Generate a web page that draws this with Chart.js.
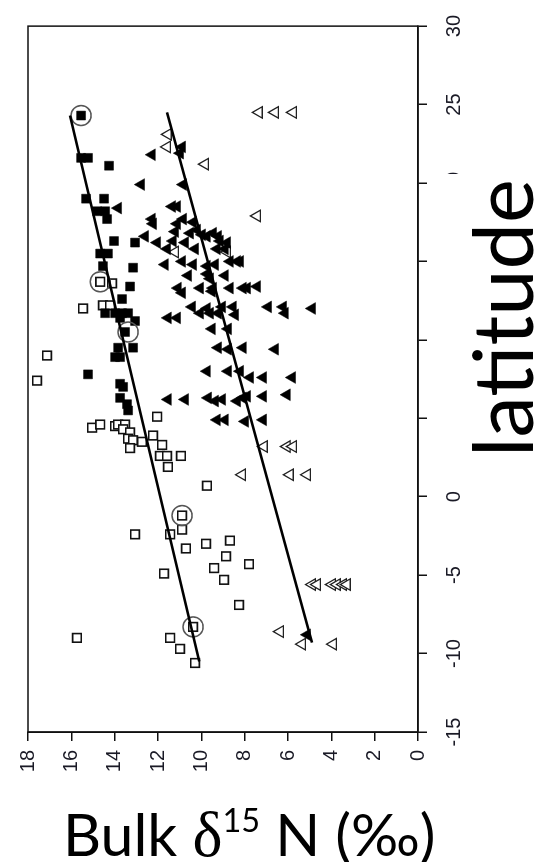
<!DOCTYPE html>
<html>
<head>
<meta charset="utf-8">
<script src="https://cdn.jsdelivr.net/npm/chart.js@4.4.0/dist/chart.umd.min.js"></script>
<style>
  html, body { margin: 0; padding: 0; background: #fff; }
  body { width: 545px; height: 862px; position: relative; overflow: hidden; }
  /* chart is laid out with latitude along x, then turned a quarter turn */
  #turn {
    position: absolute; left: 0; top: 0;
    width: 862px; height: 545px;
    transform-origin: 0 0;
    transform: translateY(862px) rotate(-90deg);
  }
  #nTitle {
    position: absolute; left: 63px; top: 803px;
    font: 59px Lato, "Open Sans", sans-serif; line-height: 1; color: #000;
    white-space: nowrap;
  }
  #nTitle .d { font-family: "Liberation Serif", serif; font-size: 1.08em; }
  #nTitle sup { font-size: 0.55em; line-height: 0; vertical-align: 0.75em; }
</style>
</head>
<body>
<div id="turn"><canvas id="chart" width="862" height="545"></canvas></div>
<div id="nTitle">Bulk <span class="d">δ</span><sup>15</sup> N (‰)</div>

<script>
// [bulk d15N, latitude]
const filledSquares = [
  [15.55,24.3],[15.55,21.6],[15.23,21.6],[14.26,21.1],[15.32,19.0],[14.49,19.0],
  [14.81,18.2],[14.44,18.2],[14.35,17.7],[14.03,16.3],[13.06,16.2],[14.67,15.5],
  [14.31,15.5],[14.54,14.7],[13.15,14.6],[13.29,13.4],[13.66,12.6],[14.44,11.7],
  [13.98,11.7],[13.66,11.7],[13.38,11.7],[13.06,11.2],[13.75,11.4],[13.52,10.5],
  [13.84,9.5],[13.15,9.5],[13.98,8.9],[13.75,8.9],[13.75,7.2],[13.61,7.0],
  [13.75,6.3],[13.43,5.9],[13.38,5.5],[15.23,7.8]
];
const openSquares = [
  [14.67,13.7],[14.12,13.6],[14.54,12.2],[14.21,12.2],[15.46,12.0],[17.12,9.0],
  [17.58,7.4],[15.04,4.4],[14.67,4.6],[13.98,4.5],[13.84,4.6],[13.52,4.6],
  [13.61,4.3],[13.29,4.1],[13.38,3.7],[13.15,3.6],[12.74,3.5],[13.29,3.1],
  [12.23,3.9],[12.04,5.1],[11.81,3.3],[11.91,2.6],[11.58,2.6],[11.54,1.9],
  [10.94,2.6],[9.74,0.7],[10.89,-1.2],[10.89,-2.1],[13.06,-2.4],[11.44,-2.4],
  [10.71,-3.3],[9.78,-3.0],[8.68,-2.8],[8.86,-3.8],[9.41,-4.55],[7.8,-4.3],
  [8.95,-5.3],[11.72,-4.9],[8.26,-6.9],[10.38,-8.3],[15.74,-9.0],[11.44,-9.0],
  [10.98,-9.7],[10.29,-10.6]
];
const filledTriangles = [
  [12.28,21.8],[10.89,22.3],[10.98,21.9],[12.78,19.9],[10.84,19.9],[13.84,18.4],
  [11.35,18.5],[11.12,18.5],[12.28,17.7],[12.23,17.4],[11.12,17.4],[10.84,17.7],
  [10.38,17.5],[9.97,16.7],[10.52,16.8],[11.21,16.9],[12.6,16.6],[12.04,16.2],
  [11.58,15.8],[11.31,16.3],[10.75,16.2],[10.29,15.8],[9.74,16.6],[9.46,16.8],
  [11.68,14.8],[10.89,15.0],[10.38,14.8],[9.74,14.7],[9.37,14.8],
  [9.23,16.6],[9.14,16.3],[8.81,16.2],[9.28,15.8],[8.91,15.8],[10.2,17.0],
  [8.68,15.0],[8.35,15.0],[8.21,15.0],
  [10.61,14.1],[9.74,14.2],[9.6,13.9],[8.91,14.1],
  [11.08,13.3],[10.89,13.0],[10.06,13.3],[9.51,13.1],[9.46,13.3],[8.68,13.3],
  [8.08,13.3],[7.89,13.3],[7.43,13.4],
  [10.43,12.1],[10.06,11.7],[9.74,12.0],[9.6,11.7],[9.23,11.7],[9.04,12.1],
  [8.54,12.1],[8.44,11.6],[11.54,11.4],[11.12,11.4],
  [6.92,12.1],[6.23,12.1],[6.14,11.7],[4.89,12.0],
  [9.51,10.7],[8.77,10.7],[9.23,9.5],[8.77,9.4],[8.08,9.5],[6.6,9.4],
  [9.74,8.0],[8.77,8.0],[8.21,8.0],[7.75,7.6],[7.15,7.6],[5.81,7.6],
  [11.54,6.2],[10.75,6.2],[9.69,6.3],[9.37,6.1],[9.04,6.2],[8.35,6.1],
  [8.08,6.3],[7.89,6.4],[7.15,6.4],[6.05,6.5],
  [9.28,4.9],[8.91,4.9],[7.98,4.8],[7.15,4.9],
  [5.12,-8.8]
];
const openTriangles = [
  [11.54,23.1],[11.58,22.3],[9.83,21.2],[11.21,15.6],[7.43,17.9],[8.81,15.6],
  [7.34,24.5],[6.6,24.5],[5.77,24.5],
  [7.11,3.2],[6.05,3.2],[5.77,3.2],[8.12,1.4],[5.91,1.4],[5.12,1.4],
  [4.89,-5.6],[4.66,-5.6],[3.97,-5.6],[3.74,-5.6],[3.46,-5.6],[3.28,-5.6],
  [6.37,-8.6],[5.35,-9.4],[3.92,-9.4]
];
// circled samples
const circled = [[15.55,24.3],[14.67,13.7],[13.38,10.5],[10.89,-1.2],[10.38,-8.3]];
// fitted lines, end points
const squareFit = [[16.06,24.3],[10.1,-10.5]];
const triangleFit = [[11.58,24.5],[4.89,-9.3]];

const latTicks = { min: -15, max: 30, step: 5 };
const nTicks = { min: 0, max: 18, step: 2 };

const toXY = pts => pts.map(([n, lat]) => ({ x: lat, y: n }));

const frame = {
  id: 'frame',
  afterDraw(chart) {
    const { ctx, chartArea: a } = chart;
    ctx.save();
    ctx.strokeStyle = '#111';
    ctx.lineWidth = 1.5;
    ctx.strokeRect(a.left, a.top, a.right - a.left, a.bottom - a.top);
    ctx.restore();
  }
};

// big axis title sitting on a white patch over the middle tick labels
const latTitle = {
  id: 'latTitle',
  afterDraw(chart) {
    const ctx = chart.ctx;
    ctx.save();
    ctx.fillStyle = '#fff';
    ctx.fillRect(398, 436, 290, 109);
    ctx.fillStyle = '#000';
    ctx.font = '83px Lato';
    ctx.textBaseline = 'alphabetic';
    ctx.fillText('latitude', 405, 533);
    ctx.restore();
  }
};

const tickFont = { family: 'Liberation Sans, Arial, sans-serif', size: 20 };

new Chart(document.getElementById('chart'), {
  type: 'scatter',
  data: {
    datasets: [
      { data: toXY(squareFit), showLine: true, borderColor: '#000', borderWidth: 2.6, pointRadius: 0 },
      { data: toXY(triangleFit), showLine: true, borderColor: '#000', borderWidth: 2.6, pointRadius: 0 },
      { data: toXY(circled), pointStyle: 'circle', pointRadius: 10, borderColor: '#555',
        borderWidth: 1.5, backgroundColor: 'rgba(0,0,0,0)' },
      { data: toXY(filledSquares), pointStyle: 'rect', pointRadius: 6.3, backgroundColor: '#000',
        borderColor: '#000', borderWidth: 0.5 },
      { data: toXY(openSquares), pointStyle: 'rect', pointRadius: 6.1, backgroundColor: '#fff',
        borderColor: '#111', borderWidth: 1.6 },
      { data: toXY(filledTriangles), pointStyle: 'triangle', pointRadius: 6.8, backgroundColor: '#000',
        borderColor: '#000', borderWidth: 0.5 },
      { data: toXY(openTriangles), pointStyle: 'triangle', pointRadius: 6.6, backgroundColor: '#fff',
        borderColor: '#222', borderWidth: 1.3 }
    ]
  },
  options: {
    responsive: false,
    animation: false,
    devicePixelRatio: 1,
    layout: { padding: { top: 28, right: 17, left: 0, bottom: 0 } },
    plugins: { legend: { display: false }, tooltip: { enabled: false } },
    scales: {
      x: {
        type: 'linear', position: 'bottom',
        min: latTicks.min, max: latTicks.max,
        ticks: { stepSize: latTicks.step, font: tickFont, color: '#1a1a26', padding: 15, maxRotation: 0 },
        grid: { drawOnChartArea: false, tickLength: 9, color: '#111', lineWidth: 1.5 },
        border: { color: '#111', width: 1.5 },
        afterFit: s => { s.height = 127; }
      },
      y: {
        type: 'linear', position: 'left',
        min: nTicks.min, max: nTicks.max,
        ticks: { stepSize: nTicks.step, font: tickFont, color: '#1a1a26', padding: 9 },
        grid: { drawOnChartArea: false, tickLength: 9, color: '#111', lineWidth: 1.5 },
        border: { color: '#111', width: 1.5 },
        afterFit: s => { s.width = 130; }
      }
    }
  },
  plugins: [frame, latTitle]
});
</script>
</body>
</html>
